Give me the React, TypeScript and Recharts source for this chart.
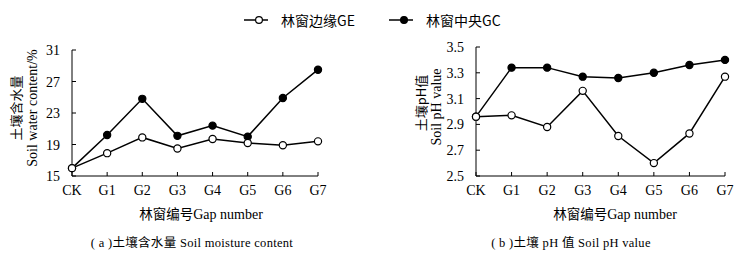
import { LineChart, Line, XAxis, YAxis } from "recharts";

const categories = ["CK", "G1", "G2", "G3", "G4", "G5", "G6", "G7"];
const moistureGE = [16.0, 17.9, 19.9, 18.5, 19.7, 19.2, 18.9, 19.4];
const moistureGC = [16.0, 20.2, 24.8, 20.1, 21.4, 20.0, 24.9, 28.5];
const phGE = [2.96, 2.97, 2.88, 3.16, 2.81, 2.6, 2.83, 3.27];
const phGC = [2.96, 3.34, 3.34, 3.27, 3.26, 3.3, 3.36, 3.4];
const moistureTicks = [15, 19, 23, 27, 31];
const phTicks = [2.5, 2.7, 2.9, 3.1, 3.3, 3.5];

const FONT = '"Liberation Serif", "Noto Sans CJK SC", serif';
const CJK = '"Noto Sans CJK SC", "Liberation Serif", sans-serif';

const moistureData = categories.map((c, i) => ({ name: c, ge: moistureGE[i], gc: moistureGC[i] }));
const phData = categories.map((c, i) => ({ name: c, ge: phGE[i], gc: phGC[i] }));

const YTick = (props: any) => {
  const { x, y, payload, digits } = props;
  return (
    <g>
      <line x1={x} y1={y} x2={x + 4} y2={y} stroke="#000" strokeWidth={1} />
      <text x={x - 12} y={y} dy={5} textAnchor="end" fontSize={14} fontFamily={FONT} fill="#000">
        {digits ? Number(payload.value).toFixed(digits) : payload.value}
      </text>
    </g>
  );
};

const XTick = (props: any) => {
  const { x, y, payload } = props;
  return (
    <g>
      <line x1={x} y1={y} x2={x} y2={y - 4} stroke="#000" strokeWidth={1} />
      <text x={x} y={y + 19} textAnchor="middle" fontSize={14} fontFamily={FONT} fill="#000">
        {payload.value}
      </text>
    </g>
  );
};

const openDot = { r: 3.6, fill: "#fff", stroke: "#000", strokeWidth: 1.2 };
const solidDot = { r: 3.6, fill: "#000", stroke: "#000", strokeWidth: 1.2 };

function Panel({ data, ticks, domain, digits, yw, right, top }: any) {
  return (
    <LineChart width={373} height={254} data={data} margin={{ top, right, bottom: 48, left: 0 }}>
      <XAxis
        dataKey="name"
        height={30}
        tick={<XTick />}
        tickLine={false}
        tickSize={0}
        tickMargin={0}
        axisLine={{ stroke: "#000" }}
        interval={0}
      />
      <YAxis
        width={yw}
        domain={domain}
        ticks={ticks}
        tick={<YTick digits={digits} />}
        tickLine={false}
        tickSize={0}
        tickMargin={0}
        axisLine={{ stroke: "#000" }}
        interval={0}
      />
      <Line dataKey="gc" stroke="#000" strokeWidth={1.5} dot={solidDot} isAnimationActive={false} />
      <Line dataKey="ge" stroke="#000" strokeWidth={1.5} dot={openDot} isAnimationActive={false} />
    </LineChart>
  );
}

const abs = (s: any): any => ({ position: "absolute", whiteSpace: "nowrap", color: "#000", ...s });

function LegendItem({ left, filled, label }: any) {
  return (
    <div style={abs({ left, top: 11, display: "flex", alignItems: "center", height: 18 })}>
      <svg width={34} height={18}>
        <line x1={0} y1={9} x2={24} y2={9} stroke="#000" strokeWidth={1.5} />
        <circle cx={15} cy={9} r={3.4} fill={filled ? "#000" : "#fff"} stroke="#000" strokeWidth={1.2} />
      </svg>
      <span style={{ fontFamily: CJK, fontSize: 14, marginLeft: 3 }}>{label}</span>
    </div>
  );
}

function YLabel({ cx, cy, text, font, size }: any) {
  return (
    <div
      style={abs({
        left: cx,
        top: cy,
        transform: "translate(-50%, -50%) rotate(-90deg)",
        fontFamily: font,
        fontSize: size,
      })}
    >
      {text}
    </div>
  );
}

export default function App() {
  return (
    <div style={{ position: "absolute", left: 0, top: 0, width: 746, height: 254, background: "#fff", overflow: "hidden" }}>
      <div style={abs({ left: 0, top: 0 })}>
        <Panel data={moistureData} ticks={moistureTicks} domain={[15, 31]} digits={0} yw={72} right={55} top={50} />
      </div>
      <div style={abs({ left: 373, top: 0 })}>
        <Panel data={phData} ticks={phTicks} domain={[2.5, 3.5]} digits={1} yw={103} right={21} top={47} />
      </div>

      <LegendItem left={244} filled={false} label="林窗边缘GE" />
      <LegendItem left={389} filled={true} label="林窗中央GC" />

      <YLabel cx={15} cy={108} text="土壤含水量" font={CJK} size={13} />
      <YLabel cx={33} cy={108} text="Soil water content/%" font={FONT} size={14} />
      <YLabel cx={420} cy={103} text="土壤pH值" font={CJK} size={13} />
      <YLabel cx={437} cy={107} text="Soil pH value" font={FONT} size={14} />

      <div style={abs({ left: 201, top: 213, transform: "translate(-50%, -50%)", fontSize: 13.5, fontFamily: CJK })}>
        林窗编号<span style={{ fontFamily: FONT, fontSize: 14 }}>Gap number</span>
      </div>
      <div style={abs({ left: 615, top: 213, transform: "translate(-50%, -50%)", fontSize: 13.5, fontFamily: CJK })}>
        林窗编号<span style={{ fontFamily: FONT, fontSize: 14 }}>Gap number</span>
      </div>

      <div style={abs({ left: 192, top: 241, transform: "translate(-50%, -50%)", fontSize: 12.5, letterSpacing: 0.3, fontFamily: FONT })}>
        ( a )土壤含水量 Soil moisture content
      </div>
      <div style={abs({ left: 571, top: 241, transform: "translate(-50%, -50%)", fontSize: 12.5, letterSpacing: 0.3, fontFamily: FONT })}>
        ( b )土壤 pH 值 Soil pH value
      </div>
    </div>
  );
}
